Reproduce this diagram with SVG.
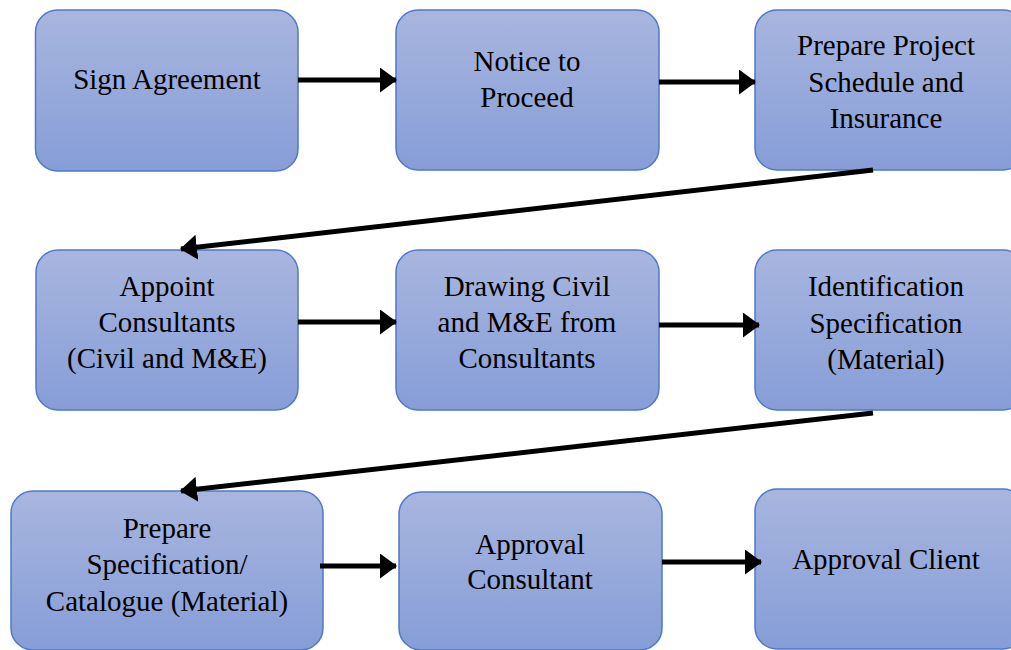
<svg xmlns="http://www.w3.org/2000/svg" width="1011" height="650" viewBox="0 0 1011 650">
<defs>
<linearGradient id="g" x1="0" y1="0" x2="0" y2="1">
<stop offset="0" stop-color="#a8b6df"/>
<stop offset="1" stop-color="#869dd7"/>
</linearGradient>
<marker id="ah" markerWidth="5" markerHeight="5" refX="3.2" refY="2.5" orient="auto" markerUnits="strokeWidth">
<path d="M0,0 L3.4,2.5 L0,5 Z" fill="#000"/>
</marker>
<style>
.box{fill:url(#g);stroke:#4f79c8;stroke-width:1.5}
.t{font-family:"Liberation Serif","Times New Roman",serif;font-size:29px;fill:#000;text-anchor:middle}
.c{stroke:#000;stroke-width:5;fill:none;marker-end:url(#ah)}
</style>
</defs>
<rect width="1011" height="650" fill="#fff"/>
<g id="n1"><rect class="box" x="35.5" y="10" width="262.5" height="161" rx="22"/><text class="t" x="167" y="89">Sign Agreement</text></g>
<g id="n2"><rect class="box" x="396" y="10" width="263" height="160" rx="22"/><text class="t" x="527" y="71">Notice to</text><text class="t" x="527" y="107">Proceed</text></g>
<g id="n3"><rect class="box" x="755" y="10" width="270" height="160" rx="22"/><text class="t" x="886" y="55">Prepare Project</text><text class="t" x="886" y="92">Schedule and</text><text class="t" x="886" y="128">Insurance</text></g>
<g id="n4"><rect class="box" x="36" y="250" width="262" height="160" rx="22"/><text class="t" x="167" y="296">Appoint</text><text class="t" x="167" y="332">Consultants</text><text class="t" x="167" y="368">(Civil and M&amp;E)</text></g>
<g id="n5"><rect class="box" x="396" y="250" width="263" height="160" rx="22"/><text class="t" x="527" y="296">Drawing Civil</text><text class="t" x="527" y="332">and M&amp;E from</text><text class="t" x="527" y="368">Consultants</text></g>
<g id="n6"><rect class="box" x="755" y="250" width="270" height="160" rx="22"/><text class="t" x="886" y="296">Identification</text><text class="t" x="886" y="333">Specification</text><text class="t" x="886" y="369">(Material)</text></g>
<g id="n7"><rect class="box" x="11" y="491" width="312" height="159" rx="22"/><text class="t" x="167" y="538">Prepare</text><text class="t" x="167" y="574">Specification/</text><text class="t" x="167" y="611">Catalogue (Material)</text></g>
<g id="n8"><rect class="box" x="399" y="492" width="263" height="158" rx="22"/><text class="t" x="530" y="554">Approval</text><text class="t" x="530" y="589">Consultant</text></g>
<g id="n9"><rect class="box" x="755" y="489" width="270" height="160" rx="22"/><text class="t" x="886" y="569">Approval Client</text></g>
<g id="connectors">
<line class="c" x1="298" y1="80" x2="396" y2="80"/>
<line class="c" x1="659" y1="82" x2="755" y2="82"/>
<line class="c" x1="873" y1="170" x2="181" y2="249"/>
<line class="c" x1="298" y1="322" x2="396" y2="322"/>
<line class="c" x1="659" y1="325" x2="759" y2="325"/>
<line class="c" x1="873" y1="413" x2="181" y2="491"/>
<line class="c" x1="320" y1="566" x2="396" y2="566"/>
<line class="c" x1="662" y1="562" x2="761" y2="562"/>
</g>
</svg>
